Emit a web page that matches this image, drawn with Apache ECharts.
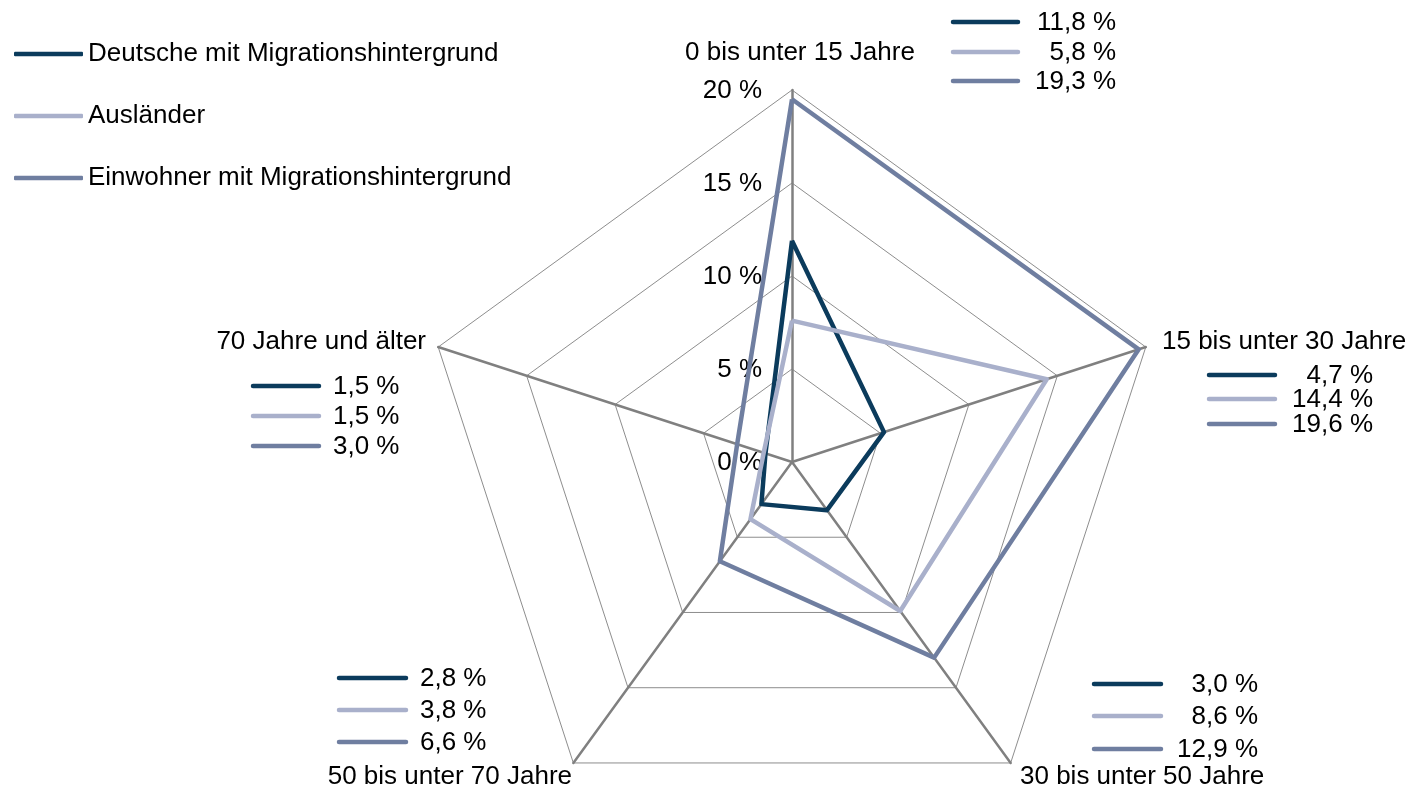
<!DOCTYPE html>
<html>
<head>
<meta charset="utf-8">
<script src="https://cdn.jsdelivr.net/npm/echarts@6/dist/echarts.min.js"></script>
<style>html,body{margin:0;padding:0;background:#fff}#c{width:1413px;height:789px}</style>
</head>
<body>
<div id="c"></div>
<script>
// ---- data ----
var categories = ['0 bis unter 15 Jahre', '15 bis unter 30 Jahre', '30 bis unter 50 Jahre', '50 bis unter 70 Jahre', '70 Jahre und älter'];
var seriesNames = ['Deutsche mit Migrationshintergrund', 'Ausländer', 'Einwohner mit Migrationshintergrund'];
// values as plotted in the picture (percent)
var deutsche = [11.9, 5.2, 3.2, 2.8, 1.5];
var auslaender = [7.6, 14.4, 9.9, 3.8, 1.6];
var einwohner = [19.5, 19.6, 13.0, 6.6, 3.1];
// value labels as printed
var labelsDeutsche = ['11,8 %', '4,7 %', '3,0 %', '2,8 %', '1,5 %'];
var labelsAuslaender = ['5,8 %', '14,4 %', '8,6 %', '3,8 %', '1,5 %'];
var labelsEinwohner = ['19,3 %', '19,6 %', '12,9 %', '6,6 %', '3,0 %'];
var tickValues = [0, 5, 10, 15, 20];
var tickLabels = ['0 %', '5 %', '10 %', '15 %', '20 %'];

// ---- styles / layout ----
var colors = ['#0b3b5c', '#a9b0cb', '#6f7ea0'];
var FONT = 'Liberation Sans, Arial, sans-serif';
var FS = 26;
var CX = 792, CY = 462, R = 372, MAXV = 20;

// ECharts radar goes counter-clockwise; reorder so categories run clockwise
var order = [0, 4, 3, 2, 1];
function reorder(a) { return order.map(function (i) { return a[i]; }); }

var allValues = [deutsche, auslaender, einwohner];
var allLabels = [labelsDeutsche, labelsAuslaender, labelsEinwohner];

var graphics = [];
function txt(s, x, y, align) {
  graphics.push({ type: 'text', silent: true, style: { text: s, x: x, y: y, align: align, verticalAlign: 'middle', fill: '#000', font: FS + 'px ' + FONT } });
}
function seg(x0, x1, y, c) {
  graphics.push({ type: 'line', silent: true, shape: { x1: x0, y1: y, x2: x1, y2: y }, style: { stroke: c, lineWidth: 4.5, lineCap: 'round' } });
}

// tick labels on the vertical axis
tickValues.forEach(function (v, i) {
  txt(tickLabels[i], CX - 30, CY - R * v / MAXV + 1, 'right');
});

// category names
var namePos = [
  { x: 800, y: 53, a: 'center' },
  { x: 1162, y: 342, a: 'left' },
  { x: 1020, y: 777, a: 'left' },
  { x: 572, y: 777, a: 'right' },
  { x: 426, y: 342, a: 'right' }
];
categories.forEach(function (c, i) { txt(c, namePos[i].x, namePos[i].y, namePos[i].a); });

// value label groups
var groups = [
  { x0: 953, x1: 1018, tx: 1116, ta: 'right', ys: [22, 52, 81] },
  { x0: 1209, x1: 1275, tx: 1373, ta: 'right', ys: [375, 399, 424] },
  { x0: 1094, x1: 1161, tx: 1258, ta: 'right', ys: [684, 716, 749] },
  { x0: 339, x1: 406, tx: 420, ta: 'left', ys: [678, 710, 742] },
  { x0: 253, x1: 319, tx: 333, ta: 'left', ys: [386, 416, 446] }
];
groups.forEach(function (g, ci) {
  for (var s = 0; s < 3; s++) {
    seg(g.x0, g.x1, g.ys[s], colors[s]);
    txt(allLabels[s][ci], g.tx, g.ys[s] + 1, g.ta);
  }
});

var chart = echarts.init(document.getElementById('c'), null, { renderer: 'canvas' });
chart.setOption({
  animation: false,
  color: colors,
  legend: {
    orient: 'vertical', left: 9, top: 36,
    itemWidth: 69, itemHeight: 4.5, itemGap: 36,
    icon: 'roundRect',
    data: seriesNames,
    textStyle: { fontSize: FS, lineHeight: FS, color: '#000', fontFamily: FONT, padding: [0, 0, 0, 0] }
  },
  radar: {
    center: [CX, CY], radius: R, startAngle: 90, shape: 'polygon',
    splitNumber: 4,
    indicator: reorder(categories).map(function (c) { return { name: c, min: 0, max: MAXV }; }),
    axisName: { show: false },
    axisLine: { lineStyle: { color: '#808080', width: 2.5 } },
    splitLine: { lineStyle: { color: '#707070', width: 0.8 } },
    splitArea: { show: false },
    axisTick: { show: false },
    axisLabel: { show: false }
  },
  series: [{
    type: 'radar',
    symbol: 'none',
    data: allValues.map(function (vals, s) {
      return { name: seriesNames[s], value: reorder(vals), lineStyle: { color: colors[s], width: 4.5 }, itemStyle: { color: colors[s] } };
    })
  }],
  graphic: graphics
});
</script>
</body>
</html>
